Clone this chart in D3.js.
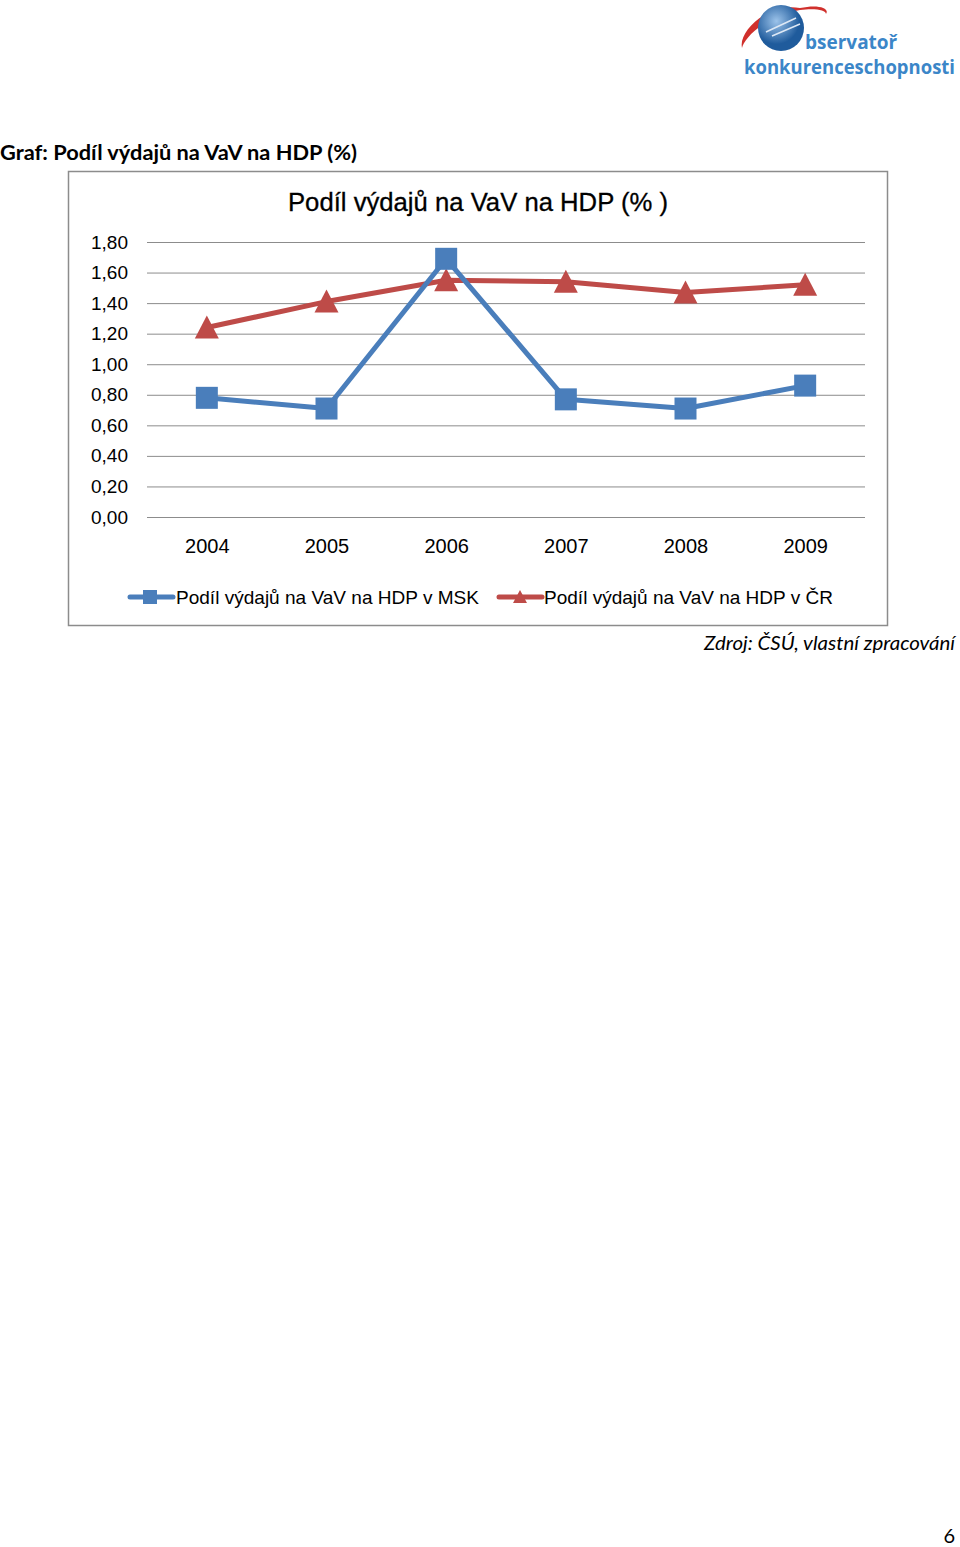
<!DOCTYPE html>
<html><head><meta charset="utf-8">
<script src="https://cdn.jsdelivr.net/npm/d3@7"></script>
<style>body{margin:0;background:#fff}svg{display:block}</style>
</head><body>
<svg id="c" width="960" height="1547"></svg>
<script>
const years = ["2004","2005","2006","2007","2008","2009"];
const msk = [0.78, 0.71, 1.69, 0.77, 0.71, 0.86];
const cr = [1.24, 1.41, 1.55, 1.54, 1.47, 1.52];
const yTicks = [0, 0.2, 0.4, 0.6, 0.8, 1.0, 1.2, 1.4, 1.6, 1.8];
const seriesNames = ["Podíl výdajů na VaV na HDP v MSK", "Podíl výdajů na VaV na HDP v ČR"];
const colors = ["#4a7ebb", "#be4b48"];

const svg = d3.select("#c");
const font = "'Liberation Sans', Arial, sans-serif";

// Logo
const logo = svg.append("g");
logo.append("path").attr("d","M800,8 C770,2 738,30 742,48 C744,40 760,18 800,10 C815,8 826,10 826,14 C830,8 818,4 800,8 Z").attr("fill","#d0302c");
const gr = svg.append("defs").append("radialGradient").attr("id","glb").attr("cx","40%").attr("cy","35%");
gr.append("stop").attr("offset","0%").attr("stop-color","#9cc3ea");
gr.append("stop").attr("offset","100%").attr("stop-color","#1f5b9c");
logo.append("circle").attr("cx",781).attr("cy",28).attr("r",23).attr("fill","url(#glb)");
logo.append("path").attr("d","M766,32 L796,18 M772,36 L800,24").attr("stroke","#dde8f5").attr("stroke-width",1.5);
logo.append("text").attr("x",805).attr("y",49).attr("font-family","'Open Sans', sans-serif").attr("font-weight","bold").attr("font-size",19).attr("fill","#3b86c8").text("bservatoř");
logo.append("text").attr("x",744).attr("y",74).attr("font-family","'Open Sans', sans-serif").attr("font-weight","bold").attr("font-size",19).attr("fill","#3b86c8").attr("textLength",211).attr("lengthAdjust","spacingAndGlyphs").text("konkurenceschopnosti");

// Heading
svg.append("text").attr("x",0).attr("y",160).attr("font-family","Lato, 'Open Sans', sans-serif").attr("font-weight","bold").attr("font-size",20).attr("fill","#000").attr("textLength",357).attr("lengthAdjust","spacingAndGlyphs").text("Graf: Podíl výdajů na VaV na HDP (%)");

// Chart frame
svg.append("rect").attr("x",68.5).attr("y",171.5).attr("width",819).attr("height",454).attr("fill","#fff").attr("stroke","#8c8c8c").attr("stroke-width",1.5);

svg.append("text").attr("x",288).attr("y",211).attr("font-family",font).attr("font-size",25).attr("fill","#000").attr("stroke","#000").attr("stroke-width",0.3)
  .attr("textLength",380).attr("lengthAdjust","spacingAndGlyphs").text("Podíl výdajů na VaV na HDP (% )");

const x = d3.scalePoint().domain(years).range([147,865]).padding(0.5);
const y = d3.scaleLinear().domain([0,1.8]).range([517,242]);

const yAxis = svg.append("g").attr("transform","translate(147,0)")
  .call(d3.axisLeft(y).tickValues(yTicks).tickSize(-718).tickPadding(19).tickFormat(d => d3.format(".2f")(d).replace(".",",")));
yAxis.select(".domain").remove();
yAxis.selectAll(".tick line").attr("stroke","#8c8c8c").attr("stroke-width",1);
yAxis.selectAll(".tick text").attr("font-family",font).attr("font-size",19).attr("fill","#000");

const xAxis = svg.append("g").attr("transform","translate(0,517)")
  .call(d3.axisBottom(x).tickSize(0).tickPadding(22));
xAxis.select(".domain").remove();
xAxis.selectAll(".tick text").attr("font-family",font).attr("font-size",20).attr("fill","#000");

const line = d3.line().x((d,i)=>x(years[i])).y(d=>y(d));
const triPath = "M0,-12L12,11L-12,11Z";

// red series
svg.append("path").datum(cr).attr("d",line).attr("fill","none").attr("stroke",colors[1]).attr("stroke-width",5).attr("stroke-linejoin","round");
svg.selectAll(".tri").data(cr).join("path").attr("class","tri").attr("d",triPath).attr("fill",colors[1])
  .attr("transform",(d,i)=>`translate(${x(years[i])},${y(d)})`);
// blue series
svg.append("path").datum(msk).attr("d",line).attr("fill","none").attr("stroke",colors[0]).attr("stroke-width",5).attr("stroke-linejoin","round");
svg.selectAll(".sq").data(msk).join("rect").attr("class","sq").attr("x",(d,i)=>x(years[i])-11).attr("y",d=>y(d)-11).attr("width",22).attr("height",22).attr("fill",colors[0]);

// Legend
const lg = [{x0:128, tx:176, w:303},{x0:497, tx:544, w:289}];
lg.forEach((l,i)=>{
  svg.append("line").attr("x1",l.x0+2).attr("x2",l.x0+45).attr("y1",597).attr("y2",597).attr("stroke",colors[i]).attr("stroke-width",5).attr("stroke-linecap","round");
  if(i===0) svg.append("rect").attr("x",l.x0+15).attr("y",590).attr("width",14).attr("height",14).attr("fill",colors[0]);
  else svg.append("path").attr("d","M0,-7L7,6L-7,6Z").attr("fill",colors[1]).attr("transform",`translate(${l.x0+23},597)`);
  svg.append("text").attr("x",l.tx).attr("y",604).attr("font-family",font).attr("font-size",19).attr("fill","#000")
    .attr("textLength",l.w).attr("lengthAdjust","spacingAndGlyphs").text(seriesNames[i]);
});

// Source
svg.append("text").attr("x",704).attr("y",650).attr("font-family","Lato, 'Open Sans', sans-serif").attr("font-style","italic").attr("font-size",20).attr("fill","#000")
  .attr("textLength",251).attr("lengthAdjust","spacingAndGlyphs").text("Zdroj: ČSÚ, vlastní zpracování");

svg.append("text").attr("x",955).attr("y",1543).attr("text-anchor","end").attr("font-family","Lato, 'Open Sans', sans-serif").attr("font-size",20).attr("fill","#000").text("6");
</script>
</body></html>
